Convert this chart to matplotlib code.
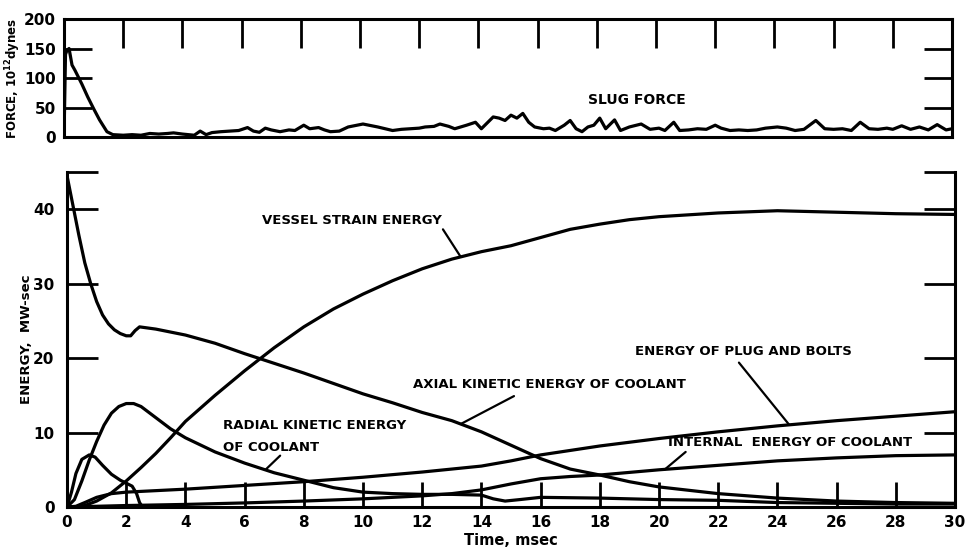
import numpy as np
import matplotlib
matplotlib.use("Agg")
import matplotlib.pyplot as plt

plt.rcParams['font.family'] = ['DejaVu Sans']
plt.rcParams['font.weight'] = 'bold'

# slug force, 10^12 dynes
slug_t = [0, 0.05, 0.1, 0.17, 0.27, 0.37, 0.6, 0.8, 1.0, 1.2,
          1.45, 1.65, 2.0, 2.3, 2.6, 2.9, 3.2, 3.5, 3.7, 4.0,
          4.2, 4.4, 4.6, 4.8, 5.0, 5.3, 5.6, 5.9, 6.2, 6.4,
          6.6, 6.8, 7.0, 7.3, 7.6, 7.8, 8.1, 8.3, 8.6, 8.8,
          9.0, 9.3, 9.6, 10.1, 10.6, 11.1, 11.4, 11.7, 12.0, 12.2,
          12.5, 12.7, 13.0, 13.2, 13.4, 13.6, 13.9, 14.1, 14.3, 14.5,
          14.7, 14.9, 15.1, 15.3, 15.5, 15.7, 15.9, 16.2, 16.4, 16.6,
          16.9, 17.1, 17.3, 17.5, 17.7, 17.9, 18.1, 18.3, 18.6, 18.8,
          19.1, 19.5, 19.8, 20.1, 20.3, 20.6, 20.8, 21.1, 21.4, 21.7,
          22.0, 22.2, 22.5, 22.8, 23.1, 23.4, 23.7, 24.1, 24.4, 24.7,
          25.0, 25.4, 25.7, 26.0, 26.3, 26.6, 26.9, 27.2, 27.5, 27.8,
          28.0, 28.3, 28.6, 28.9, 29.2, 29.5, 29.8, 30.0]
slug_f = [0, 140, 147, 150, 122, 113, 90, 68, 48, 29,
          9, 4, 3, 4, 3, 6, 5, 6, 7, 5,
          4, 3, 10, 4, 7.5, 9, 10, 11, 16, 10,
          8, 15, 12, 9, 12, 11, 20, 14, 16, 12,
          9, 10, 17, 22, 17, 11, 13, 14, 15, 17,
          18, 22, 18, 14, 17, 20, 25, 14, 24, 34,
          32, 28, 37, 32, 40, 25, 17, 14, 15, 11,
          20, 28, 14, 9, 17, 20, 32, 14, 29, 11,
          17, 22, 13, 15, 11, 25, 11, 12, 14, 13,
          20, 15, 11, 12, 11, 12, 15, 17, 15, 11,
          13, 28, 14, 13, 14, 11, 25, 14, 13, 15,
          13, 19, 13, 17, 12, 21, 12, 14]

# energies, MW-sec
axial_t = [0, 0.2, 0.4, 0.6, 0.8, 1.0, 1.2, 1.4, 1.6, 1.8, 2.0, 2.15, 2.3, 2.45,
           3, 4, 5, 6, 7, 8, 9, 10, 11, 12, 13, 14, 15, 16, 17, 18, 19, 20,
           22, 24, 26, 28, 30]
axial_e = [44.5, 40.5, 36.5, 32.8, 30.0, 27.6, 25.8, 24.6, 23.8, 23.3, 23.0, 23.0, 23.7, 24.2,
           23.9, 23.1, 22.0, 20.6, 19.3, 18.0, 16.6, 15.2, 14.0, 12.7, 11.6, 10.1, 8.3, 6.5, 5.1, 4.3, 3.4, 2.7,
           1.8, 1.2, 0.8, 0.6, 0.5]

vessel_t = [0, 0.3, 0.6, 1.0, 1.5, 2.0, 2.5, 3.0, 3.5, 4.0, 5, 6, 7, 8, 9, 10,
            11, 12, 13, 14, 15, 16, 17, 18, 19, 20, 22, 24, 26, 28, 30]
vessel_e = [0, 0, 0.2, 0.8, 1.9, 3.5, 5.3, 7.2, 9.3, 11.5, 15.0, 18.3, 21.4, 24.2, 26.6, 28.6,
            30.4, 32.0, 33.3, 34.3, 35.1, 36.2, 37.3, 38.0, 38.6, 39.0, 39.5, 39.8, 39.6, 39.4, 39.3]

radial_t = [0, 0.25, 0.5, 0.75, 1.0, 1.25, 1.5, 1.75, 2.0, 2.25, 2.5, 3.0, 3.5, 4.0,
            5, 6, 7, 8, 9, 10, 11, 12, 13, 14, 14.4, 14.8, 15.3, 16, 18, 20,
            22, 24, 26, 28, 30]
radial_e = [0, 1.0, 3.5, 6.3, 8.8, 11.0, 12.6, 13.5, 13.9, 13.9, 13.5, 12.0, 10.5, 9.3,
            7.4, 5.9, 4.6, 3.6, 2.6, 2.0, 1.8, 1.7, 1.7, 1.6, 1.1, 0.8, 1.0, 1.3, 1.2, 1.0,
            0.9, 0.6, 0.5, 0.4, 0.4]

hump_t = [0, 0.15, 0.3, 0.5, 0.75, 0.95, 1.2, 1.5, 1.8, 2.0, 2.2, 2.35, 2.45, 2.55, 3.0]
hump_e = [0, 2.0, 4.5, 6.4, 7.0, 6.7, 5.6, 4.4, 3.6, 3.2, 2.8, 1.8, 0.6, 0, 0]

plug_t = [0, 0.3, 0.6, 1.0, 1.5, 2, 4, 6, 8, 10, 12, 14, 15, 16, 18, 20, 22, 24, 26, 28, 30]
plug_e = [0, 0.1, 0.6, 1.3, 1.8, 2.0, 2.4, 2.9, 3.4, 4.0, 4.7, 5.5, 6.2, 7.0, 8.2, 9.2,
          10.1, 10.9, 11.6, 12.2, 12.8]

internal_t = [0, 1, 2, 4, 6, 8, 10, 12, 13, 14, 15, 16, 17, 18, 20, 22, 24, 26, 28, 30]
internal_e = [0, 0.1, 0.2, 0.35, 0.55, 0.8, 1.1, 1.5, 1.8, 2.3, 3.1, 3.8, 4.1, 4.3, 5.0,
              5.6, 6.2, 6.6, 6.9, 7.0]

LW = 2.3
fig = plt.figure(figsize=(9.73, 5.54), dpi=100)

# ---- top panel: slug force
ax1 = fig.add_axes([0.0658, 0.7527, 0.9126, 0.213])
ax1.plot(slug_t, slug_f, color='black', lw=LW, solid_joinstyle='round')
ax1.set_xlim(0, 30)
ax1.set_ylim(0, 200)
ax1.set_yticks([0, 50, 100, 150, 200])
ax1.set_yticklabels(['0', '50', '100', '150', '200'], fontsize=11, fontweight='bold')
ax1.set_xticks(range(2, 30, 2))
ax1.tick_params(axis='x', which='both', bottom=False, top=True, labelbottom=False,
                labeltop=False, direction='in', length=21, width=2)
ax1.tick_params(axis='y', left=True, right=True, direction='in', length=20, width=2, pad=6)
for s in ax1.spines.values():
    s.set_linewidth(2.2)
ax1.set_ylabel('FORCE, 10$^{\\mathbf{12}}$dynes', fontsize=8.5, fontweight='bold')
ax1.yaxis.set_label_coords(-0.046, 0.5)
ax1.text(17.7, 63, 'SLUG FORCE', fontsize=10, fontweight='bold', va='center', ha='left')

# ---- bottom panel: energies
ax2 = fig.add_axes([0.0689, 0.0848, 0.9126, 0.6047])
for tt, ee in [(axial_t, axial_e), (vessel_t, vessel_e), (radial_t, radial_e),
               (hump_t, hump_e), (plug_t, plug_e), (internal_t, internal_e)]:
    ax2.plot(tt, ee, color='black', lw=LW, solid_joinstyle='round', solid_capstyle='round')
ax2.set_xlim(0, 30)
ax2.set_ylim(0, 45)
ax2.spines['top'].set_visible(False)
for s in ax2.spines.values():
    s.set_linewidth(2.2)
ax2.set_xticks(range(0, 31, 2))
ax2.set_xticklabels([str(v) for v in range(0, 31, 2)], fontsize=11, fontweight='bold')
ax2.set_yticks([0, 10, 20, 30, 40, 45])
ax2.set_yticklabels(['0', '10', '20', '30', '40', ''], fontsize=11, fontweight='bold')
ax2.tick_params(axis='x', direction='in', length=18, width=2, pad=6)
ax2.tick_params(axis='y', left=True, right=True, direction='in', length=22, width=2, pad=9)
ax2.set_xlabel('Time, msec', fontsize=10.5, fontweight='bold', labelpad=2)
ax2.set_ylabel('ENERGY,  MW-sec', fontsize=9.5, fontweight='bold')
ax2.yaxis.set_label_coords(-0.038, 0.5)

arrow = dict(arrowstyle='-', lw=1.6, color='black', shrinkA=0, shrinkB=0)
txt = dict(fontsize=9.5, fontweight='bold', ha='left', va='center')

ax2.text(6.6, 38.5, 'VESSEL STRAIN ENERGY', **txt)
ax2.annotate('', xy=(13.3, np.interp(13.3, vessel_t, vessel_e)), xytext=(12.7, 37.3),
             arrowprops=arrow)

ax2.text(19.2, 20.9, 'ENERGY OF PLUG AND BOLTS', **txt)
ax2.annotate('', xy=(24.4, np.interp(24.4, plug_t, plug_e)), xytext=(22.7, 19.4),
             arrowprops=arrow)

ax2.text(11.7, 16.4, 'AXIAL KINETIC ENERGY OF COOLANT', **txt)
ax2.annotate('', xy=(13.3, np.interp(13.3, axial_t, axial_e)), xytext=(15.1, 14.9),
             arrowprops=arrow)

ax2.text(5.27, 10.9, 'RADIAL KINETIC ENERGY', **txt)
ax2.text(5.27, 8.0, 'OF COOLANT', **txt)
ax2.annotate('', xy=(6.7, np.interp(6.7, radial_t, radial_e)), xytext=(7.2, 6.9),
             arrowprops=arrow)

ax2.text(20.3, 8.7, 'INTERNAL  ENERGY OF COOLANT', **txt)
ax2.annotate('', xy=(20.2, np.interp(20.2, internal_t, internal_e)), xytext=(20.9, 7.4),
             arrowprops=arrow)

fig.savefig('out.png', dpi=100)
